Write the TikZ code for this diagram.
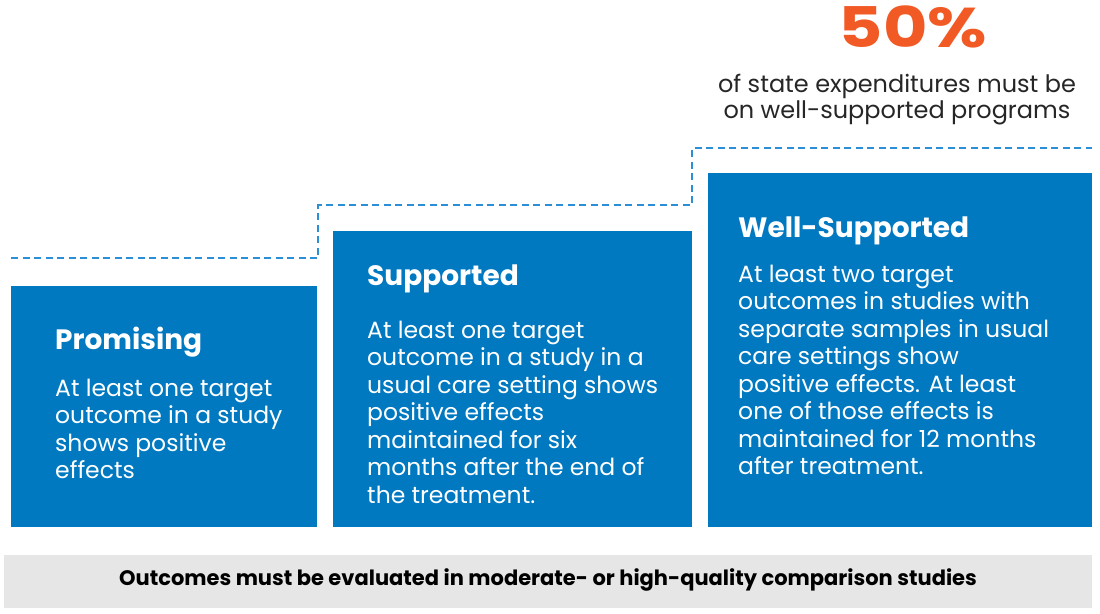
\documentclass[tikz,border=0pt]{standalone}
\usepackage{fontspec}
\usepackage{graphicx}
\setmainfont{Poppins}
\usetikzlibrary{positioning}
\definecolor{tierblue}{HTML}{0079C1}
\definecolor{stepline}{HTML}{2A8FD6}
\definecolor{accent}{HTML}{F15A24}
\definecolor{footbar}{HTML}{E6E6E6}
\tikzset{
  tier/.style={fill=tierblue},
  tiertitle/.style={anchor=base west, text=white, inner sep=0pt, font=\fontsize{28}{30}\selectfont\bfseries},
  tierbody/.style={anchor=base west, text=white, inner sep=0pt, align=left, font=\fontsize{23.5}{27.5}\selectfont},
}

\begin{document}
\begin{tikzpicture}[x=1pt, y=-1pt]
      \useasboundingbox[fill=white] (0,0) rectangle (1100,613);

      % tier boxes
      \fill[tier] (11,286) rectangle (317,527);
      \fill[tier] (333,231) rectangle (692,527);
      \fill[tier] (708,173) rectangle (1092,527);

      % staircase
      \draw[stepline, line width=2pt, dash pattern=on 7pt off 4.5pt]
        (11,258) -- (318,258) -- (318,205) -- (692,205) -- (692,148) -- (1092,148);

      % promising (base = last line)
      \node[tiertitle] (promtitle) at (55,349) {Promising};
      \node[tierbody] (prombody) at (55,478.5) {At least one target\\outcome in a study\\shows positive\\effects};

      % supported
      \node[tiertitle] (suptitle) at (367,285) {Supported};
      \node[tierbody] (supbody) at (367,503) {At least one target\\outcome in a study in a\\usual care setting shows\\positive effects\\maintained for six\\months after the end of\\the treatment.};

      % well-supported
      \node[tiertitle] (welltitle) at (738,237) {Well-Supported};
      \node[tierbody] (wellbody) at (738,474.5) {At least two target\\outcomes in studies with\\separate samples in usual\\care settings show\\positive effects. At least\\one of those effects is\\maintained for 12 months\\after treatment.};

      % expenditure share
      \node[anchor=base, inner sep=0pt, text=accent, font=\fontsize{56}{60}\selectfont\bfseries] (share) at (913,47) {\scalebox{1.22}[1]{50\%}};
      \node[anchor=base, inner sep=0pt, align=center, text=black!85, font=\fontsize{24}{26}\selectfont] (sharetext) at (897,118) {of state expenditures must be\\on well-supported programs};

      % footer
      \fill[footbar] (4,555) rectangle (1092,608);
      \node[inner sep=0pt, font=\fontsize{21}{22}\selectfont\bfseries] (footer) at (548,580) {Outcomes must be evaluated in moderate- or high-quality comparison studies};
\end{tikzpicture}
\end{document}
